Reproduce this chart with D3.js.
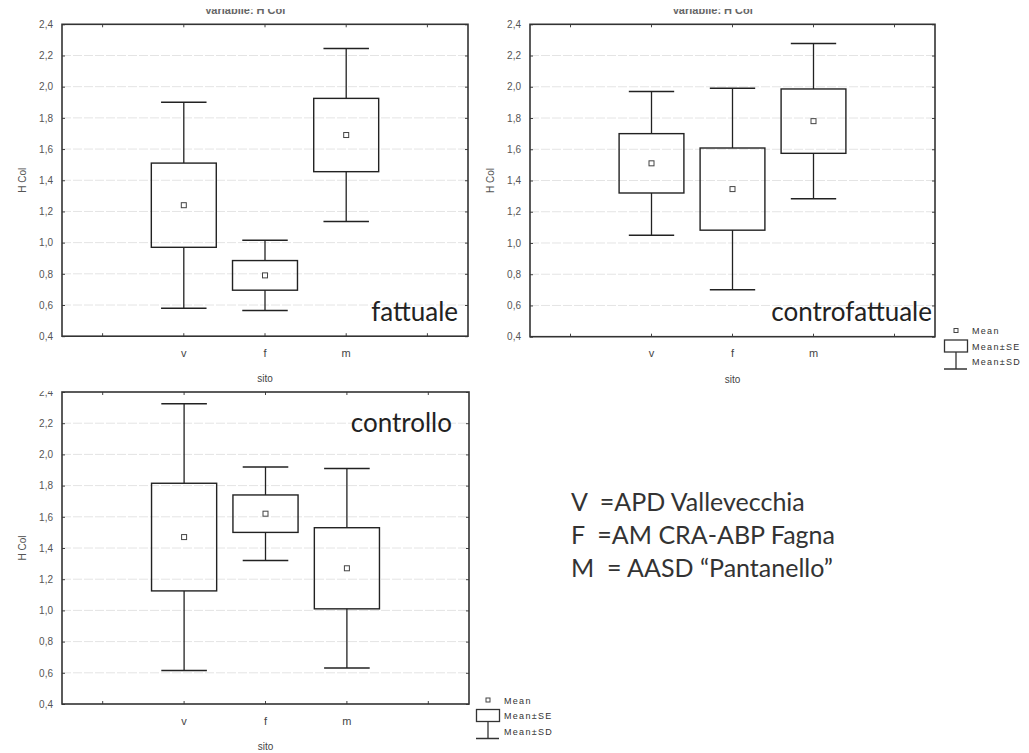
<!DOCTYPE html>
<html>
<head>
<meta charset="utf-8">
<script src="https://cdn.jsdelivr.net/npm/d3@7"></script>
<style>
  html, body { margin: 0; padding: 0; background: #fff; }
  svg { display: block; }
</style>
</head>
<body>
<svg id="chart" width="1029" height="753"></svg>
<script>
// Sites on the x axis (two empty slots frame the three groups)
const slots = ["l", "v", "f", "m", "r"];
const categories = ["v", "f", "m"];
const yTicks = [0.4, 0.6, 0.8, 1.0, 1.2, 1.4, 1.6, 1.8, 2.0, 2.2, 2.4];

// H Col by site: mean, standard error, standard deviation
const fattualeMean = [1.24, 0.79, 1.69];
const fattualeSE   = [0.27, 0.095, 0.235];
const fattualeSD   = [0.66, 0.225, 0.555];

const controfattualeMean = [1.51, 1.345, 1.78];
const controfattualeSE   = [0.19, 0.263, 0.206];
const controfattualeSD   = [0.46, 0.645, 0.497];

const controlloMean = [1.47, 1.62, 1.27];
const controlloSE   = [0.345, 0.12, 0.26];
const controlloSD   = [0.855, 0.30, 0.64];

const legendLabels = ["Mean", "Mean\u00b1SE", "Mean\u00b1SD"];
const siteNotes = ["V  =APD Vallevecchia", "F  =AM CRA-ABP Fagna", "M  = AASD \u201cPantanello\u201d"];

const svg = d3.select("#chart");
const fmt = d => d3.format(".1f")(d).replace(".", ",");
const axisFont = "Liberation Sans, Arial, sans-serif";
const bigFont = "Lato, Carlito, 'Open Sans', sans-serif";

function panel(cfg) {
  const g = svg.append("g");
  const x = d3.scaleBand().domain(slots).range([cfg.x0, cfg.x1]);
  const y = d3.scaleLinear().domain([0.4, 2.4]).range([cfg.yBot, cfg.yTop]);

  // faint grid
  g.append("g").selectAll("line").data(yTicks.slice(1, -1)).join("line")
    .attr("x1", cfg.x0).attr("x2", cfg.x1)
    .attr("y1", d => y(d)).attr("y2", d => y(d))
    .attr("stroke", "#e4e4e4").attr("stroke-width", 1)
    .attr("stroke-dasharray", "9,2");

  // axes
  const styleAxis = a => {
    a.select(".domain").remove();
    a.selectAll(".tick line").attr("stroke", "#444");
    a.selectAll("text").attr("font-family", axisFont).attr("font-size", 10).attr("fill", "#555");
  };
  g.append("g").attr("transform", `translate(${cfg.x0},0)`)
    .call(d3.axisLeft(y).tickValues(yTicks).tickSize(-3).tickPadding(9).tickFormat(fmt))
    .call(styleAxis);
  g.append("g").attr("transform", `translate(${cfg.x1},0)`)
    .call(d3.axisRight(y).tickValues(yTicks).tickSize(-3).tickFormat(""))
    .call(styleAxis);
  g.append("g").attr("transform", `translate(0,${cfg.yBot})`)
    .call(d3.axisBottom(x).tickSize(-3).tickPadding(13)
      .tickFormat(d => categories.includes(d) ? d : ""))
    .call(styleAxis)
    .selectAll("text").attr("font-size", 11).attr("fill", "#444");
  g.append("g").attr("transform", `translate(0,${cfg.yTop})`)
    .call(d3.axisTop(x).tickSize(-3).tickFormat(""))
    .call(styleAxis);

  // frame
  g.append("rect")
    .attr("x", cfg.x0).attr("y", cfg.yTop)
    .attr("width", cfg.x1 - cfg.x0).attr("height", cfg.yBot - cfg.yTop)
    .attr("fill", "none").attr("stroke", "#333").attr("stroke-width", 1.6);

  // axis titles
  g.append("text")
    .attr("x", (cfg.x0 + cfg.x1) / 2).attr("y", cfg.yBot + 46)
    .attr("text-anchor", "middle")
    .attr("font-family", axisFont).attr("font-size", 10).attr("fill", "#444")
    .text("sito");
  g.append("text")
    .attr("transform", `translate(${cfg.x0 - 36},${(cfg.yTop + cfg.yBot) / 2}) rotate(-90)`)
    .attr("text-anchor", "middle")
    .attr("font-family", axisFont).attr("font-size", 10).attr("fill", "#555")
    .text("H Col");

  // mean ± SE boxes, mean ± SD whiskers
  const bw = x.bandwidth();
  const rows = categories.map((c, i) => ({
    c, m: cfg.mean[i], se: cfg.se[i], sd: cfg.sd[i]
  }));
  const grp = g.append("g").selectAll("g").data(rows).join("g")
    .attr("transform", d => `translate(${x(d.c) + bw / 2},0)`);
  const ink = "#222";
  grp.append("line")
    .attr("x1", 0).attr("x2", 0)
    .attr("y1", d => y(d.m + d.sd)).attr("y2", d => y(d.m + d.se))
    .attr("stroke", ink).attr("stroke-width", 1.3);
  grp.append("line")
    .attr("x1", 0).attr("x2", 0)
    .attr("y1", d => y(d.m - d.se)).attr("y2", d => y(d.m - d.sd))
    .attr("stroke", ink).attr("stroke-width", 1.3);
  grp.append("line")
    .attr("x1", -bw * 0.28).attr("x2", bw * 0.28)
    .attr("y1", d => y(d.m + d.sd)).attr("y2", d => y(d.m + d.sd))
    .attr("stroke", ink).attr("stroke-width", 1.5);
  grp.append("line")
    .attr("x1", -bw * 0.28).attr("x2", bw * 0.28)
    .attr("y1", d => y(d.m - d.sd)).attr("y2", d => y(d.m - d.sd))
    .attr("stroke", ink).attr("stroke-width", 1.5);
  grp.append("rect")
    .attr("x", -bw * 0.4).attr("width", bw * 0.8)
    .attr("y", d => y(d.m + d.se))
    .attr("height", d => y(d.m - d.se) - y(d.m + d.se))
    .attr("fill", "none").attr("stroke", ink).attr("stroke-width", 1.4);
  grp.append("rect")
    .attr("x", -2.5).attr("width", 5)
    .attr("y", d => y(d.m) - 2.5).attr("height", 5)
    .attr("fill", "#fff").attr("stroke", "#444").attr("stroke-width", 1);

  // panel label
  g.append("text")
    .attr("x", cfg.labelX).attr("y", cfg.labelY)
    .attr("text-anchor", "end")
    .attr("font-family", bigFont).attr("font-size", 26).attr("fill", "#222")
    .text(cfg.label);

  // partially visible title
  if (cfg.title) {
    g.append("text")
      .attr("x", (cfg.x0 + cfg.x1) / 2 - 20).attr("y", 14)
      .attr("text-anchor", "middle")
      .attr("font-family", axisFont).attr("font-size", 11).attr("font-weight", "bold")
      .attr("fill", "#666").text("Variabile: H Col");
    g.append("rect").attr("x", cfg.x0).attr("y", 0)
      .attr("width", cfg.x1 - cfg.x0).attr("height", 9).attr("fill", "#fff");
  }
  return { x, y };
}

function legend(lx, ly, boxH) {
  const g = svg.append("g").attr("transform", `translate(${lx},${ly})`);
  g.append("rect").attr("x", -2).attr("y", -2).attr("width", 4).attr("height", 4)
    .attr("fill", "#fff").attr("stroke", "#444").attr("stroke-width", 1);
  g.append("rect").attr("x", -11.5).attr("y", 9.5).attr("width", 23).attr("height", boxH)
    .attr("fill", "none").attr("stroke", "#333").attr("stroke-width", 1.3);
  g.append("line").attr("x1", 0).attr("x2", 0).attr("y1", 9.5 + boxH).attr("y2", 9.5 + boxH + 17)
    .attr("stroke", "#333").attr("stroke-width", 1.3);
  g.append("line").attr("x1", -12).attr("x2", 11).attr("y1", 9.5 + boxH + 17).attr("y2", 9.5 + boxH + 17)
    .attr("stroke", "#333").attr("stroke-width", 1.5);
  g.selectAll("text.lg").data(legendLabels).join("text").attr("class", "lg")
    .attr("x", 16).attr("y", (d, i) => i * 15.5 + 3.5)
    .attr("font-family", axisFont).attr("font-size", 9).attr("letter-spacing", 1.3)
    .attr("fill", "#333").text(d => d);
}

// bottom-left panel first: the upper panels sit over its top edge
panel({ x0: 62, x1: 469, yTop: 392, yBot: 704, mean: controlloMean, se: controlloSE, sd: controlloSD,
        label: "controllo", labelX: 452, labelY: 432 });
svg.append("rect").attr("x", 0).attr("y", 378).attr("width", 58).attr("height", 13).attr("fill", "#fff");
legend(488, 700, 12);

panel({ x0: 62, x1: 468, yTop: 24.3, yBot: 336.2, mean: fattualeMean, se: fattualeSE, sd: fattualeSD,
        label: "fattuale", labelX: 458, labelY: 321, title: true });
panel({ x0: 530, x1: 935, yTop: 24.3, yBot: 336.7, mean: controfattualeMean, se: controfattualeSE, sd: controfattualeSD,
        label: "controfattuale", labelX: 932, labelY: 321, title: true });
legend(956, 330.5, 12);

// site key
svg.append("g").selectAll("text").data(siteNotes).join("text")
  .attr("x", 571).attr("y", (d, i) => 511 + i * 33)
  .attr("font-family", bigFont).attr("font-size", 25).attr("fill", "#333")
  .attr("xml:space", "preserve").style("white-space", "pre")
  .text(d => d);
</script>
</body>
</html>
